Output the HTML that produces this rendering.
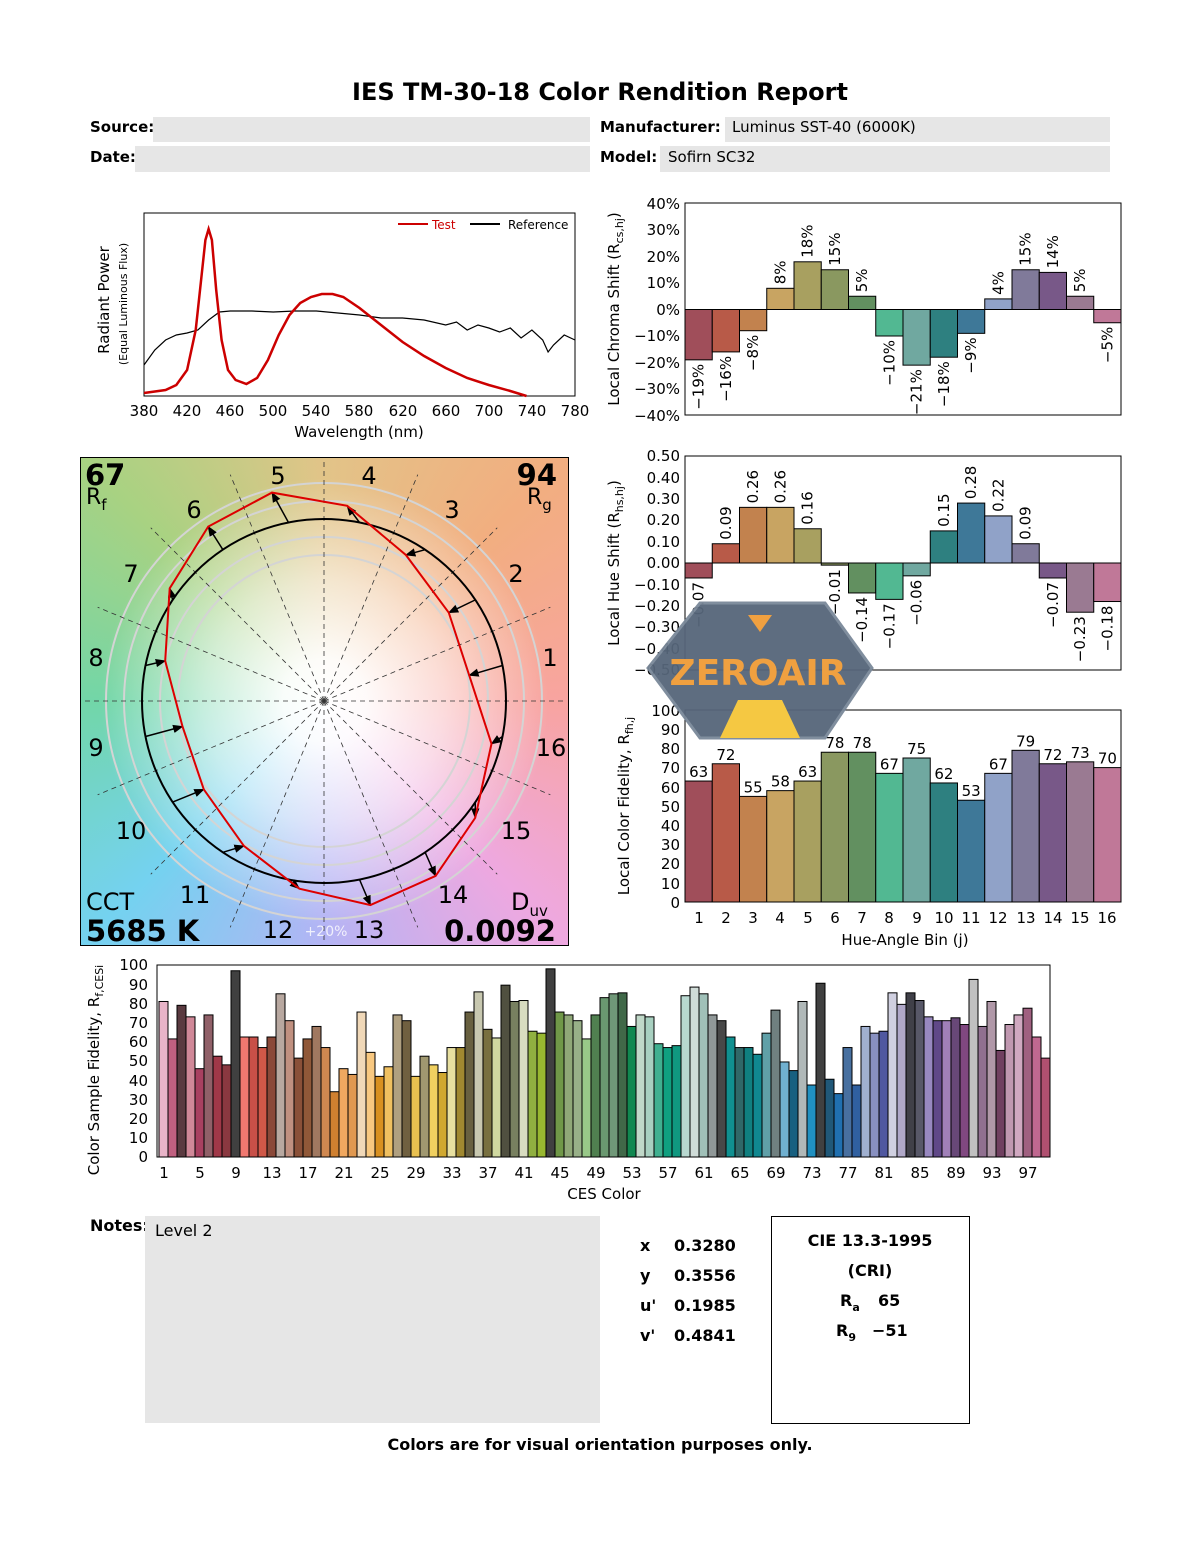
<!DOCTYPE html>
<html><head><meta charset="utf-8"><style>
body{margin:0;width:1200px;height:1550px;background:#fff;position:relative;overflow:hidden;font-family:"DejaVu Sans","Liberation Sans",sans-serif}
#vg{position:absolute;left:80px;top:457px;width:487px;height:487px;border:1px solid #000;
background:radial-gradient(circle at 50% 50%,#fff 0,rgba(255,255,255,.95) 12%,rgba(255,255,255,.6) 35%,rgba(255,255,255,0) 65%),
conic-gradient(from 0deg at 50% 50%,#e2c488,#f2ae80 45deg,#f8a4a0 90deg,#eea8e0 135deg,#b4b4f4 180deg,#74d2f0 225deg,#72d6a8 270deg,#a8d282 315deg,#e2c488 360deg)}
svg{position:absolute;left:0;top:0}
text{font-family:"DejaVu Sans","Liberation Sans",sans-serif}
</style></head><body>
<div id="vg"></div>
<svg id="s" width="1200" height="1550" viewBox="0 0 1200 1550">
<defs><marker id="ah" viewBox="0 0 10 10" refX="9" refY="5" markerWidth="7" markerHeight="7" orient="auto"><path d="M0,1 L10,5 L0,9 z" fill="#000"/></marker>
<clipPath id="vc"><rect x="81" y="458" width="486" height="486"/></clipPath></defs>
<text x="600" y="100" font-size="24" font-weight="bold" text-anchor="middle">IES TM-30-18 Color Rendition Report</text>
<rect x="153" y="117" width="437" height="25" fill="#e6e6e6"/><rect x="725" y="117" width="385" height="25" fill="#e6e6e6"/>
<rect x="135" y="146" width="455" height="26" fill="#e6e6e6"/><rect x="660" y="146" width="450" height="26" fill="#e6e6e6"/>
<g font-size="15" font-weight="bold"><text x="90" y="132">Source:</text><text x="90" y="162">Date:</text><text x="600" y="132">Manufacturer:</text><text x="600" y="162">Model:</text></g>
<g font-size="15"><text x="732" y="132">Luminus SST-40 (6000K)</text><text x="668" y="162">Sofirn SC32</text></g>

<!-- spectrum -->
<rect x="144" y="213" width="431" height="183" fill="none" stroke="#000"/>
<g id="spec"></g>
<line x1="398" y1="224" x2="428" y2="224" stroke="#c00" stroke-width="2"/><text x="432" y="229" font-size="12" fill="#c00">Test</text>
<line x1="470" y1="224" x2="500" y2="224" stroke="#000" stroke-width="2"/><text x="508" y="229" font-size="12">Reference</text>
<g font-size="15" text-anchor="middle"><text x="144" y="416">380</text><text x="187" y="416">420</text><text x="230" y="416">460</text><text x="273" y="416">500</text><text x="316" y="416">540</text><text x="359" y="416">580</text><text x="403" y="416">620</text><text x="446" y="416">660</text><text x="489" y="416">700</text><text x="532" y="416">740</text><text x="575" y="416">780</text>
<text x="359" y="437">Wavelength (nm)</text></g>
<text transform="translate(109,300) rotate(-90)" font-size="15" text-anchor="middle">Radiant Power</text>
<text transform="translate(127,304) rotate(-90)" font-size="11" text-anchor="middle">(Equal Luminous Flux)</text>

<!-- chroma -->
<rect x="685" y="203" width="436" height="212" fill="none" stroke="#000"/>
<line x1="685" y1="309.5" x2="1121" y2="309.5" stroke="#000"/>
<g id="ch"></g>
<g font-size="15" text-anchor="end"><text x="680" y="209">40%</text><text x="680" y="235">30%</text><text x="680" y="262">20%</text><text x="680" y="288">10%</text><text x="680" y="315">0%</text><text x="680" y="341">−10%</text><text x="680" y="368">−20%</text><text x="680" y="394">−30%</text><text x="680" y="421">−40%</text></g>
<text transform="translate(619,309) rotate(-90)" font-size="15" text-anchor="middle">Local Chroma Shift (R<tspan font-size="11" dy="4">cs,hj</tspan><tspan dy="-4">)</tspan></text>
<g font-size="15" id="chl"></g>

<!-- hue -->
<rect x="685" y="456" width="436" height="214" fill="none" stroke="#000"/>
<line x1="685" y1="563" x2="1121" y2="563" stroke="#000"/>
<g id="hu"></g>
<g font-size="15" text-anchor="end"><text x="680" y="461">0.50</text><text x="680" y="483">0.40</text><text x="680" y="504">0.30</text><text x="680" y="525">0.20</text><text x="680" y="547">0.10</text><text x="680" y="568">0.00</text><text x="680" y="590">−0.10</text><text x="680" y="611">−0.20</text><text x="680" y="632">−0.30</text><text x="680" y="654">−0.40</text><text x="680" y="675">−0.50</text></g>
<text transform="translate(619,563) rotate(-90)" font-size="15" text-anchor="middle">Local Hue Shift (R<tspan font-size="11" dy="4">hs,hj</tspan><tspan dy="-4">)</tspan></text>
<g font-size="15" id="hul"></g>

<!-- fidelity -->
<rect x="685" y="710" width="436" height="192" fill="none" stroke="#000"/>
<g id="fi"></g>
<g font-size="15" text-anchor="end"><text x="680" y="716">100</text><text x="680" y="735">90</text><text x="680" y="754">80</text><text x="680" y="773">70</text><text x="680" y="793">60</text><text x="680" y="812">50</text><text x="680" y="831">40</text><text x="680" y="850">30</text><text x="680" y="869">20</text><text x="680" y="889">10</text><text x="680" y="908">0</text></g>
<text transform="translate(629,806) rotate(-90)" font-size="15" text-anchor="middle">Local Color Fidelity, R<tspan font-size="11" dy="4">fh,j</tspan></text>
<g font-size="15" text-anchor="middle" id="fil"></g>
<g font-size="15" text-anchor="middle"><text x="699" y="923">1</text><text x="726" y="923">2</text><text x="753" y="923">3</text><text x="780" y="923">4</text><text x="808" y="923">5</text><text x="835" y="923">6</text><text x="862" y="923">7</text><text x="889" y="923">8</text><text x="917" y="923">9</text><text x="944" y="923">10</text><text x="971" y="923">11</text><text x="998" y="923">12</text><text x="1026" y="923">13</text><text x="1053" y="923">14</text><text x="1080" y="923">15</text><text x="1107" y="923">16</text>
<text x="905" y="945">Hue-Angle Bin (j)</text></g>

<!-- vector graphic -->
<g id="vec" clip-path="url(#vc)"></g>
<g font-size="24" text-anchor="middle"><text x="278" y="484">5</text><text x="369" y="484">4</text><text x="452" y="518">3</text><text x="516" y="582">2</text><text x="550" y="666">1</text><text x="551" y="756">16</text><text x="516" y="839">15</text><text x="453" y="903">14</text><text x="369" y="938">13</text><text x="278" y="938">12</text><text x="195" y="903">11</text><text x="131" y="839">10</text><text x="96" y="756">9</text><text x="96" y="666">8</text><text x="131" y="582">7</text><text x="194" y="518">6</text></g>
<text x="326" y="936" font-size="14" fill="#fff" text-anchor="middle" opacity=".8">+20%</text>
<text x="85" y="485" font-size="29" font-weight="bold">67</text><text x="86" y="504" font-size="22">R<tspan font-size="15" dy="6">f</tspan></text>
<text x="557" y="485" font-size="29" font-weight="bold" text-anchor="end">94</text><text x="527" y="504" font-size="22">R<tspan font-size="15" dy="6">g</tspan></text>
<text x="86" y="910" font-size="24">CCT</text><text x="86" y="941" font-size="29" font-weight="bold">5685 K</text>
<text x="511" y="910" font-size="24">D<tspan font-size="15" dy="6">uv</tspan></text><text x="556" y="941" font-size="29" font-weight="bold" text-anchor="end">0.0092</text>

<!-- watermark -->
<polygon points="648,668 700,603 825,603 872,668 825,738 700,738" fill="#56667a" stroke="#7a8899" stroke-width="3" opacity=".95"/>
<polygon points="748,615 772,615 760,632" fill="#f0a040"/>
<polygon points="738,700 782,700 800,738 720,738" fill="#f5c842"/>
<text x="758" y="685" font-size="36" font-weight="bold" fill="#f0a040" text-anchor="middle">ZEROAIR</text>

<!-- CES -->
<rect x="157" y="965" width="893" height="192" fill="none" stroke="#000"/>
<g id="ces"></g>
<g font-size="15" text-anchor="end"><text x="148" y="970">100</text><text x="148" y="990">90</text><text x="148" y="1009">80</text><text x="148" y="1028">70</text><text x="148" y="1047">60</text><text x="148" y="1066">50</text><text x="148" y="1086">40</text><text x="148" y="1105">30</text><text x="148" y="1124">20</text><text x="148" y="1143">10</text><text x="148" y="1162">0</text></g>
<g font-size="15" text-anchor="middle"><text x="164" y="1178">1</text><text x="200" y="1178">5</text><text x="236" y="1178">9</text><text x="272" y="1178">13</text><text x="308" y="1178">17</text><text x="344" y="1178">21</text><text x="380" y="1178">25</text><text x="416" y="1178">29</text><text x="452" y="1178">33</text><text x="488" y="1178">37</text><text x="524" y="1178">41</text><text x="560" y="1178">45</text><text x="596" y="1178">49</text><text x="632" y="1178">53</text><text x="668" y="1178">57</text><text x="704" y="1178">61</text><text x="740" y="1178">65</text><text x="776" y="1178">69</text><text x="812" y="1178">73</text><text x="848" y="1178">77</text><text x="884" y="1178">81</text><text x="920" y="1178">85</text><text x="956" y="1178">89</text><text x="992" y="1178">93</text><text x="1028" y="1178">97</text>
<text x="604" y="1199">CES Color</text></g>
<text transform="translate(99,1070) rotate(-90)" font-size="15" text-anchor="middle">Color Sample Fidelity, R<tspan font-size="11" dy="4">f,CESi</tspan></text>

<!-- bottom -->
<text x="90" y="1231" font-size="16" font-weight="bold">Notes:</text>
<rect x="145" y="1216" width="455" height="207" fill="#e6e6e6"/>
<text x="155" y="1236" font-size="16">Level 2</text>
<g font-size="16" font-weight="bold"><text x="640" y="1251">x</text><text x="674" y="1251">0.3280</text><text x="640" y="1281">y</text><text x="674" y="1281">0.3556</text><text x="640" y="1311">u'</text><text x="674" y="1311">0.1985</text><text x="640" y="1341">v'</text><text x="674" y="1341">0.4841</text></g>
<rect x="771.5" y="1216.5" width="198" height="207" fill="none" stroke="#000"/>
<g font-size="16" font-weight="bold" text-anchor="middle"><text x="870" y="1246">CIE 13.3-1995</text><text x="870" y="1276">(CRI)</text></g>
<g font-size="16" font-weight="bold"><text x="840" y="1306">R<tspan font-size="11" dy="5">a</tspan></text><text x="878" y="1306">65</text><text x="836" y="1336">R<tspan font-size="11" dy="5">9</tspan></text><text x="872" y="1336">−51</text></g>
<text x="600" y="1450" font-size="16" font-weight="bold" text-anchor="middle">Colors are for visual orientation purposes only.</text>
</svg>
<script>
var NS="http://www.w3.org/2000/svg";
function el(p,t,a){var e=document.createElementNS(NS,t);for(var k in a)e.setAttribute(k,a[k]);document.getElementById(p).appendChild(e);return e;}
function lbl(p,x,y,s,anc){var e=el(p,"text",{transform:"translate("+x+","+y+") rotate(-90)","text-anchor":anc});e.textContent=s;}
var HC=["#a04e5a","#b85a48","#c2824e","#c8a462","#a8a060","#8a9860","#629060","#52b892","#70a8a0","#2e8080","#3e7898","#90a2c8","#807a9a","#785888","#9a7a92","#c07898"];
var CH=[-19,-16,-8,8,18,15,5,-10,-21,-18,-9,4,15,14,5,-5];
var HS=[-0.07,0.09,0.26,0.26,0.16,-0.01,-0.14,-0.17,-0.06,0.15,0.28,0.22,0.09,-0.07,-0.23,-0.18];
var FI=[63,72,55,58,63,78,78,67,75,62,53,67,79,72,73,70];
var bw=27.25;
for(var j=0;j<16;j++){var x=685+j*bw,cx=x+bw/2+5;
 var v=CH[j],y0=309.5,y1=309.5-v*2.65;
 el("ch","rect",{x:x,y:Math.min(y0,y1),width:bw,height:Math.abs(y1-y0),fill:HC[j],stroke:"#000"});
 var s=(v<0?"−"+(-v):v)+"%";
 if(v>=0)lbl("chl",cx,y1-4,s,"start");else lbl("chl",cx,y1+4,s,"end");
 v=HS[j];y0=563;y1=563-v*214;
 el("hu","rect",{x:x,y:Math.min(y0,y1),width:bw,height:Math.abs(y1-y0),fill:HC[j],stroke:"#000"});
 s=(v<0?"−":"")+Math.abs(v).toFixed(2);
 if(v>=0)lbl("hul",cx,y1-4,s,"start");else lbl("hul",cx,y1+4,s,"end");
 v=FI[j];y1=902-v*1.92;
 el("fi","rect",{x:x,y:y1,width:bw,height:902-y1,fill:HC[j],stroke:"#000"});
 var t=el("fil","text",{x:x+bw/2,y:y1-4});t.textContent=v;
}
function px(n){return 144+(n-380)*1.0775;}
var R=[[380,393],[400,390],[410,385],[420,370],[428,330],[433,280],[437,240],[440,229],[443,240],[447,290],[452,340],[458,370],[465,380],[475,384],[485,378],[495,360],[505,335],[515,315],[525,303],[535,297],[545,294],[555,294],[565,297],[580,308],[600,325],[620,342],[640,356],[660,368],[680,378],[700,385],[720,391],[735,396]];
var B=[[380,365],[390,350],[400,340],[410,335],[420,333],[430,330],[440,320],[450,312],[460,311],[480,311],[500,312],[520,311],[540,311],[560,313],[580,315],[600,318],[620,318],[640,320],[660,325],[670,322],[680,330],[690,325],[700,328],[710,332],[720,328],[730,338],[740,330],[750,340],[755,352],[760,345],[770,335],[780,340]];
function pl(a){return a.map(function(p){return px(p[0]).toFixed(1)+","+p[1]}).join(" ");}
el("spec","polyline",{points:pl(B),fill:"none",stroke:"#000","stroke-width":1.2});
el("spec","polyline",{points:pl(R),fill:"none",stroke:"#c00","stroke-width":2.5});
var cx=324,cy=701,r0=182;
[146,164,200,218].forEach(function(r){el("vec","circle",{cx:cx,cy:cy,r:r,fill:"none",stroke:"#d4d4d4","stroke-width":2});});
for(var k=0;k<16;k++){var a=k*22.5*Math.PI/180,L=(k%4==0)?400:245;
 el("vec","line",{x1:cx,y1:cy,x2:cx+L*Math.cos(a),y2:cy-L*Math.sin(a),stroke:"#333","stroke-width":0.8,"stroke-dasharray":"5,4"});}
el("vec","circle",{cx:cx,cy:cy,r:r0,fill:"none",stroke:"#000","stroke-width":2});
var pts=[];
for(var j=0;j<16;j++){var th=(j+0.5)*22.5*Math.PI/180,rr=r0*(1+CH[j]/100),tt=th+HS[j]*0.3;
 var tx=cx+rr*Math.cos(tt),ty=cy-rr*Math.sin(tt);pts.push(tx.toFixed(1)+","+ty.toFixed(1));
 el("vec","line",{x1:cx+r0*Math.cos(th),y1:cy-r0*Math.sin(th),x2:tx,y2:ty,stroke:"#000","stroke-width":1.5,"marker-end":"url(#ah)"});}
el("vec","polygon",{points:pts.join(" "),fill:"none",stroke:"#d00","stroke-width":2});
var CV=[81,61.5,79,73,46,74,52.5,48,97,62.5,62.5,57,62.5,85,71,51.5,61.5,68,57,34,46,43,75.5,54.5,42,47,74,71,42,52.5,48,44,57,57,75.5,86,66.5,62,89.5,81,81.5,65.5,64.5,98,75.5,74,71,61.5,74,83,85,85.5,68,74,73,59,57,58,84,88.5,85,74,71,62.5,57,57,53.5,64.5,76.5,49.5,45,81,37.5,90.5,40.5,33,57,37.5,68,64.5,65.5,85.5,79.5,85.5,81.5,73,71,71,72.5,69,92.5,68,81,55.5,69,74,77.5,62.5,51.5];
var CC=["#e8b4c8","#c06080","#5a3a40","#d08898","#a84060","#906068","#a03848","#8a3840","#404040","#f07870","#c85048","#d05848","#8a4838","#b8a8a0","#c09080","#8a5038","#905838","#a07860","#d08850","#d08030","#f0a860","#e09850","#f0d8b8","#f8c880","#d89020","#f0c060","#b0a080","#706040","#e8c050","#a09870","#f0d060","#d0a830","#e8e0a0","#a08830","#686040","#c8c8b0","#787040","#d0d8a0","#505040","#788060","#d8dcc0","#90b040","#98b830","#404040","#709848","#90a878","#98b088","#98c888","#508050","#6a9870","#709878","#406848","#108850","#c0d8c8","#a8d0c0","#40b090","#10a080","#109880","#b8d8d0","#d0dcd8","#a0c0b8","#909898","#484848","#109090","#306868","#108080","#108890","#60a0a8","#708080","#70b0d0","#186080","#b0b8b8","#2090c0","#404040","#205878","#2070b0","#4870a0","#3060a0","#a0b0d0","#8890c0","#5058a0","#d0d0e0","#b0a8c8","#404048","#585868","#9888c0","#604888","#a080b8","#684878","#804880","#c0c0c0","#907090","#b098a8","#704060","#c098b0","#d0a8c0","#a06080","#c06890","#b05070"];
for(var i=0;i<99;i++){var h=CV[i]*1.92;el("ces","rect",{x:159+i*9,y:1157-h,width:9,height:h,fill:CC[i],stroke:"#000","stroke-width":1});}
</script>
</body></html>
